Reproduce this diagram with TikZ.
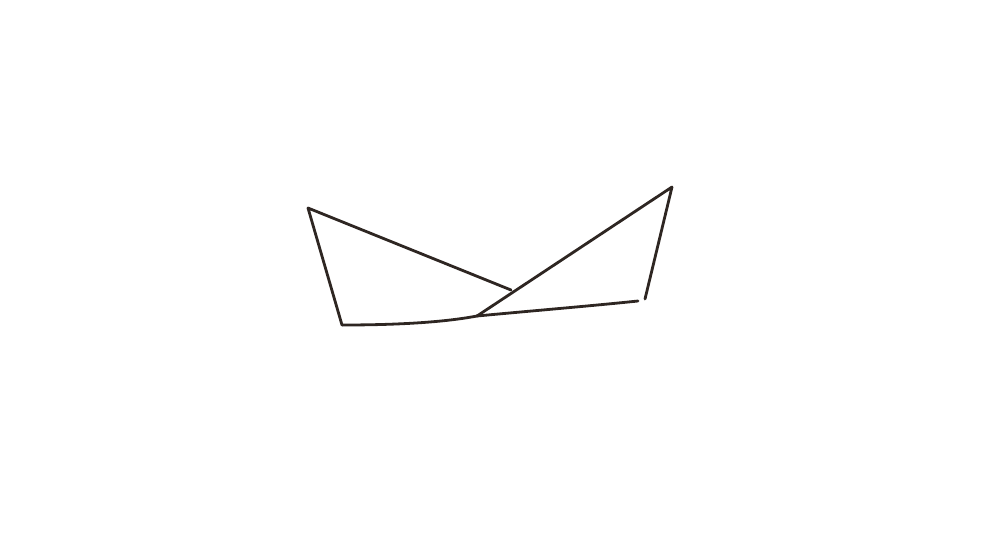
\documentclass[tikz,border=0pt]{standalone}
\definecolor{ink}{HTML}{2E2622}
\begin{document}
\begin{tikzpicture}[x=1pt,y=-1pt,
  pen/.style={draw=ink,line width=2.8pt,line cap=round,line join=round}]
\useasboundingbox (0,0) rectangle (992,544);
\coordinate (tl) at (308,208);
\coordinate (bl) at (342,325);
\coordinate (lt) at (511,290);
\coordinate (tr) at (672,187);
\coordinate (br) at (645,299);
\coordinate (rb) at (638,301);
\coordinate (rt) at (477,316);
% left triangle
\draw[pen] (lt) -- (tl) -- (bl);
\draw[pen] (bl) .. controls (390,325) and (440,323) .. (rt);
% right triangle
\draw[pen] (rt) -- (tr) -- (br);
\draw[pen] (rt) .. controls (530,311) and (590,306) .. (rb);
\end{tikzpicture}
\end{document}
